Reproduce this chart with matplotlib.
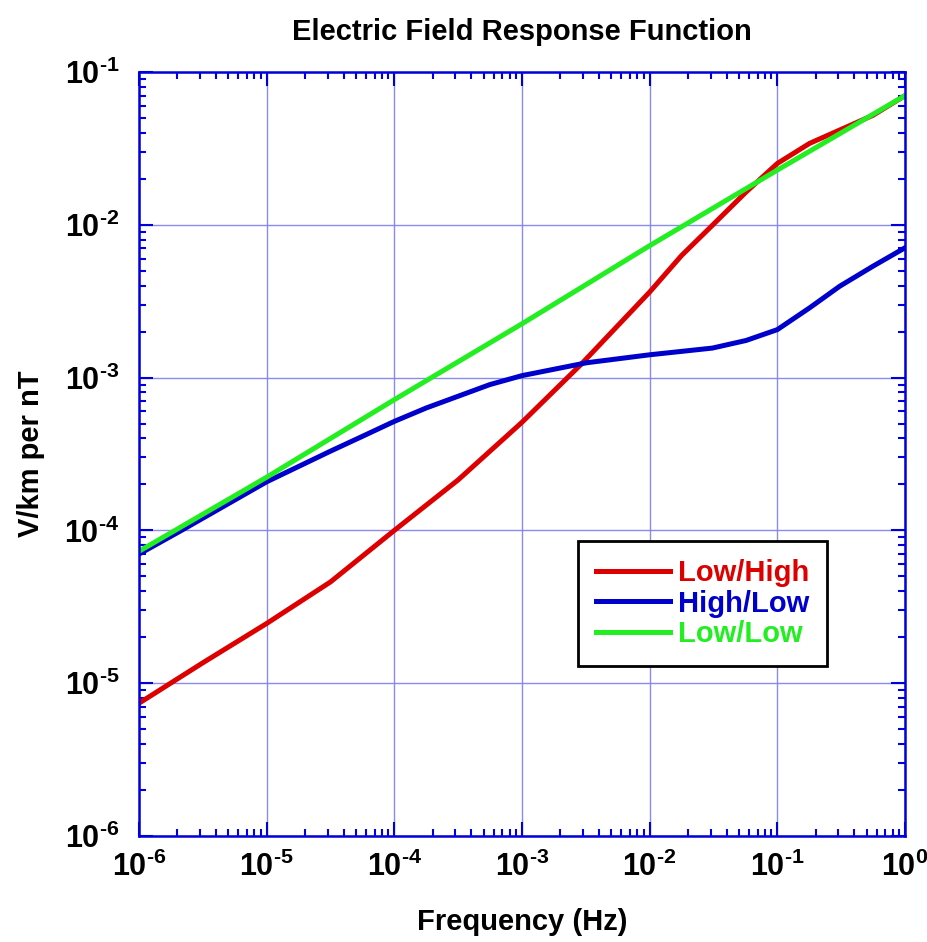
import matplotlib
matplotlib.use("Agg")
import matplotlib.pyplot as plt
from matplotlib.ticker import FixedLocator, FixedFormatter, LogLocator, NullFormatter

plt.rcParams['font.family'] = ['Liberation Sans', 'DejaVu Sans']
plt.rcParams['mathtext.fontset'] = 'custom'
plt.rcParams['mathtext.rm'] = 'Liberation Sans:bold'
plt.rcParams['mathtext.bf'] = 'Liberation Sans:bold'

# values (frequency in Hz, response in V/km per nT)
freq_low_high = [1e-6, 3.16e-6, 1e-5, 3.16e-5, 1e-4, 3.16e-4, 1e-3, 2.9e-3, 1e-2, 1.78e-2,
                 3.13e-2, 5.7e-2, 1e-1, 1.79e-1, 3.08e-1, 5.6e-1, 1.0]
low_high = [7.4e-6, 1.36e-5, 2.46e-5, 4.6e-5, 1.0e-4, 2.14e-4, 5.1e-4, 1.22e-3, 3.63e-3, 6.3e-3,
            1.0e-2, 1.64e-2, 2.52e-2, 3.41e-2, 4.17e-2, 5.2e-2, 7.0e-2]

freq_high_low = [1e-6, 2.15e-6, 1e-5, 3.16e-5, 5.6e-5, 1e-4, 1.78e-4, 3.16e-4, 5.6e-4, 1e-3,
                 3.2e-3, 1e-2, 3.1e-2, 5.7e-2, 1e-1, 1.79e-1, 3.08e-1, 5.6e-1, 1.0]
high_low = [7.0e-5, 1.0e-4, 2.08e-4, 3.3e-4, 4.12e-4, 5.17e-4, 6.33e-4, 7.55e-4, 9.0e-4, 1.03e-3,
            1.25e-3, 1.41e-3, 1.56e-3, 1.75e-3, 2.06e-3, 2.86e-3, 3.96e-3, 5.35e-3, 7.07e-3]

freq_low_low = [1e-6, 1e-5, 1e-4, 1e-3, 1e-2, 1e-1, 1.0]
low_low = [7.3e-5, 2.23e-4, 7.17e-4, 2.25e-3, 7.3e-3, 2.28e-2, 7.0e-2]

x_ticks = [1e-6, 1e-5, 1e-4, 1e-3, 1e-2, 1e-1, 1.0]
x_labels = [r'$\mathbf{10^{\text{-}6}}$', r'$\mathbf{10^{\text{-}5}}$', r'$\mathbf{10^{\text{-}4}}$',
            r'$\mathbf{10^{\text{-}3}}$', r'$\mathbf{10^{\text{-}2}}$', r'$\mathbf{10^{\text{-}1}}$',
            r'$\mathbf{10^{0}}$']
y_ticks = [1e-6, 1e-5, 1e-4, 1e-3, 1e-2, 1e-1]
y_labels = x_labels[:6]

RED = '#dd0000'
BLUE = '#0000cc'
GREEN = '#22ee22'
AXIS_BLUE = '#0000dd'

fig = plt.figure(figsize=(9.28, 9.42), dpi=100)
ax = fig.add_axes([0.1498, 0.1125, 0.8254, 0.8111])

ax.plot(freq_low_high, low_high, color=RED, lw=3.6, label='Low/High')
ax.plot(freq_high_low, high_low, color=BLUE, lw=3.6, label='High/Low')
ax.plot(freq_low_low, low_low, color=GREEN, lw=3.6, label='Low/Low')

ax.set_xscale('log')
ax.set_yscale('log')
ax.set_xlim(1e-6, 1.0)
ax.set_ylim(1e-6, 1e-1)

ax.xaxis.set_major_locator(FixedLocator(x_ticks))
ax.xaxis.set_major_formatter(FixedFormatter(x_labels))
ax.yaxis.set_major_locator(FixedLocator(y_ticks))
ax.yaxis.set_major_formatter(FixedFormatter(y_labels))
ax.xaxis.set_minor_locator(LogLocator(base=10, subs=range(2, 10), numticks=20))
ax.yaxis.set_minor_locator(LogLocator(base=10, subs=range(2, 10), numticks=20))
ax.xaxis.set_minor_formatter(NullFormatter())
ax.yaxis.set_minor_formatter(NullFormatter())

ax.tick_params(which='both', direction='in', top=True, right=True, color=AXIS_BLUE,
               width=1.5, labelsize=22, labelcolor='black')
ax.tick_params(which='major', length=10)
ax.tick_params(which='minor', length=5)
ax.tick_params(axis='x', which='major', pad=11)
ax.tick_params(axis='y', which='major', pad=14)

for spine in ax.spines.values():
    spine.set_color(AXIS_BLUE)
    spine.set_linewidth(1.8)

ax.grid(True, which='major', color='#7f7fee', lw=1.0, alpha=0.9)
ax.set_axisbelow(True)

ax.set_title('Electric Field Response Function', fontsize=21, fontweight='bold', pad=23)
ax.set_xlabel('Frequency (Hz)', fontsize=21, fontweight='bold', labelpad=18)
ax.set_ylabel('V/km per nT', fontsize=21, fontweight='bold', labelpad=14)

leg = ax.legend(loc='lower left', bbox_to_anchor=(0.573, 0.2225), borderaxespad=0,
                fancybox=False, edgecolor='black', framealpha=1, handlelength=2.53,
                handletextpad=0.28, labelspacing=0.08, borderpad=0.62, labelcolor='linecolor',
                prop={'size': 21, 'weight': 'bold'})
leg.get_frame().set_linewidth(2)

fig.savefig('out.png', dpi=100)
